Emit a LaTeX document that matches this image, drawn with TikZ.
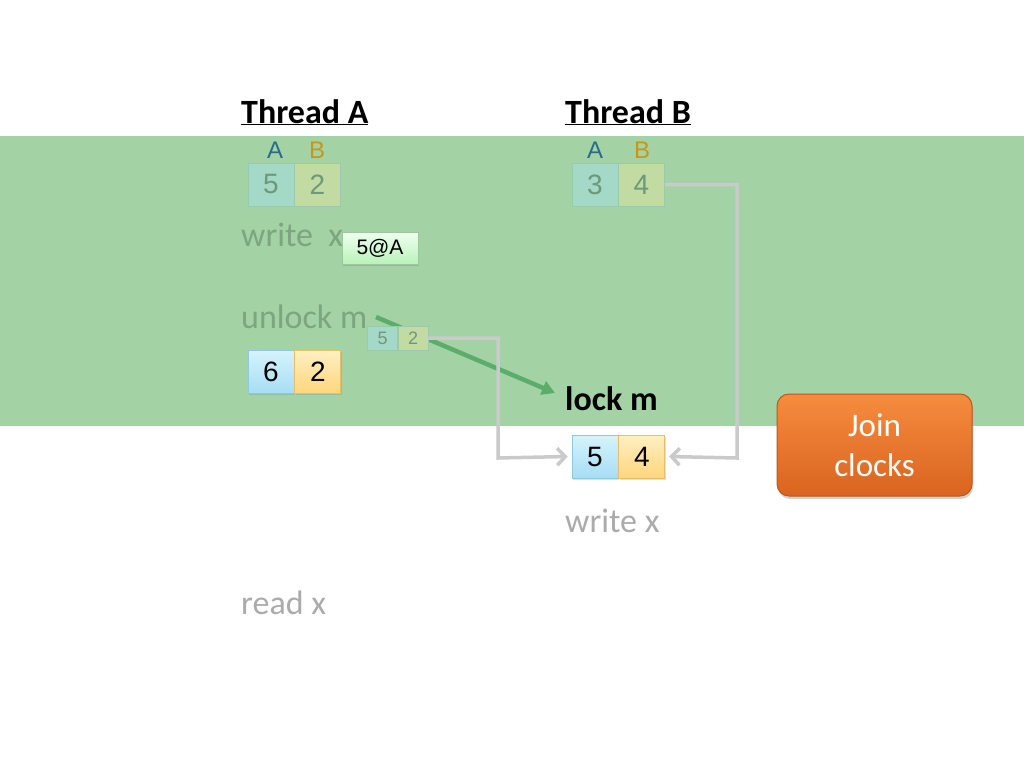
\documentclass[tikz,border=0pt]{standalone}
\usepackage{fontspec}
\setmainfont{Carlito}
\newfontfamily\arialf{Liberation Sans}
\usetikzlibrary{arrows.meta,shadows,positioning}
\definecolor{band}{HTML}{A3D3A5}
\definecolor{fadetxt}{HTML}{7CA580}
\definecolor{greytxt}{HTML}{ABABAB}
\definecolor{labA}{HTML}{2C6A8A}
\definecolor{labB}{HTML}{C8961A}
\definecolor{celltopA}{HTML}{D6F3FD}
\definecolor{cellbotA}{HTML}{A6DEF4}
\definecolor{celltopB}{HTML}{FFEFC2}
\definecolor{cellbotB}{HTML}{FFD67C}
\definecolor{cellbdA}{HTML}{8EC9E0}
\definecolor{cellbdB}{HTML}{E6C068}
\definecolor{fadeA}{HTML}{A3D9C6}
\definecolor{fadeB}{HTML}{C2DBA2}
\definecolor{fadenum}{HTML}{6F9878}
\definecolor{conn}{HTML}{CACACA}
\definecolor{garrow}{HTML}{5CAD6C}
\definecolor{jtop}{HTML}{F68C3E}
\definecolor{jbot}{HTML}{D9641F}
\definecolor{jbd}{HTML}{C0561A}
\tikzset{
  x=1pt,y=-1pt,
  title/.style={anchor=base west,inner sep=0,font=\fontsize{34}{38}\selectfont\bfseries},
  optxt/.style={anchor=base west,inner sep=0,font=\fontsize{34}{38}\selectfont},
  clab/.style={anchor=base,inner sep=0,font=\arialf\fontsize{24}{26}\selectfont},
  cellA/.style={minimum width=46,minimum height=43,inner sep=0,draw=cellbdA,line width=0.8,
     top color=celltopA,bottom color=cellbotA,font=\arialf\fontsize{28}{30}\selectfont,
     drop shadow={shadow xshift=1pt,shadow yshift=-1.5pt,opacity=0.25}},
  cellB/.style={cellA,draw=cellbdB,top color=celltopB,bottom color=cellbotB},
  fcellA/.style={minimum width=46,minimum height=43,inner sep=0,fill=fadeA,draw=fadeA!90!black!60!band,line width=0.5,
     text=fadenum,font=\arialf\fontsize{28}{30}\selectfont},
  fcellB/.style={fcellA,fill=fadeB},
  scellA/.style={fcellA,minimum width=30,minimum height=24,font=\arialf\fontsize{18}{19}\selectfont},
  scellB/.style={scellA,fill=fadeB},
  connector/.style={draw=conn,line width=3.5,line join=miter,
     -{Straight Barb[length=8pt,width=17pt,line width=3.5pt]}},
}
\begin{document}
\begin{tikzpicture}
\useasboundingbox (0,0) rectangle (1024,768);
\fill[white] (0,0) rectangle (1024,768);
\fill[band] (0,136) rectangle (1024,426);

% titles
\node[title] (tA) at (241,123) {\underline{Thread A}};
\node[title] (tB) at (565,123) {\underline{Thread B}};

% clock labels
\node[clab,text=labA] (lA1) at (275,158) {A};
\node[clab,text=labB] (lB1) at (317,158) {B};
\node[clab,text=labA] (lA2) at (595,158) {A};
\node[clab,text=labB] (lB2) at (642,158) {B};

% faded top clocks
\node[fcellA] (ca1) at (271,184.5) {5};
\node[fcellB,right=0pt of ca1] (ca2) {2};
\node[fcellA] (cb1) at (595,184.5) {3};
\node[fcellB,right=0pt of cb1] (cb2) {4};

% operations
\node[optxt,text=fadetxt] (wxA) at (241,246) {write\ \ x};
\node[optxt,text=fadetxt] (ulA) at (241,328) {unlock m};
\node[optxt,font=\fontsize{34}{38}\selectfont\bfseries] (lockB) at (565,410) {lock m};
\node[optxt,text=greytxt] (wxB) at (565,532) {write x};
\node[optxt,text=greytxt] (rxA) at (241,614) {read x};

% message
\node[minimum width=76,minimum height=32,inner sep=0,draw=green!30!gray!60,line width=0.6,
  top color=green!6,bottom color=green!25!white!90!gray,
  font=\arialf\fontsize{21}{22}\selectfont,
  drop shadow={shadow xshift=1pt,shadow yshift=-1.5pt,opacity=0.3}] (msg) at (380,248) {5@A};

% green arrow
\coordinate (gs) at (376,317);
\coordinate (ge) at (555,393);
\draw[garrow,line width=4.5,-{Triangle[length=13pt,width=14pt]}] (gs) -- (ge);

% small faded clock
\node[scellA] (sa1) at (382.5,338) {5};
\node[scellB,right=0pt of sa1] (sa2) {2};

% clock 6 2
\node[cellA] (na1) at (271,371.5) {6};
\node[cellB,right=0pt of na1] (na2) {2};

% clock 5 4
\node[cellA] (jb1) at (595,456.5) {5};
\node[cellB,right=0pt of jb1] (jb2) {4};

% connectors
\draw[connector] (sa2.east) -- (498,338) -- (498,458) -- ([xshift=-4pt]jb1.west);
\draw[connector] (cb2.east) -- (737,184.5) -- (737,458) -- ([xshift=4pt]jb2.east);

% join clocks
\node[rounded corners=12,minimum width=195,minimum height=102,inner sep=0,
  draw=jbd,line width=1,top color=jtop,bottom color=jbot,text=white,align=center,
  font=\fontsize{33}{40}\selectfont,
  drop shadow={shadow xshift=1pt,shadow yshift=-3pt,opacity=0.35}] (join) at (874.5,445) {Join\\clocks};
\end{tikzpicture}
\end{document}
